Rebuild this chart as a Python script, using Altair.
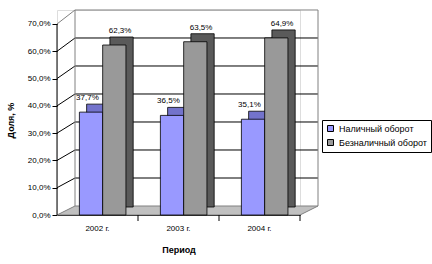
import altair as alt
import pandas as pd

# ---- data ----
years = ["2002 г.", "2003 г.", "2004 г."]
series = ["Наличный оборот", "Безналичный оборот"]
cash = [37.7, 36.5, 35.1]
noncash = [62.3, 63.5, 64.9]
y_ticks = [0, 10, 20, 30, 40, 50, 60, 70]

bar_colors = ["#9999ff", "#999999"]
shade_colors = ["#7373cc", "#5a5a5a"]

FONT = "Liberation Sans"
W, H = 243, 205
YMAX = 75.13
DX = 18  # depth of back wall in px


def back(v):
    # front-scale value that sits at the back-wall height of v
    return 3.298 + 1.0262 * v


rows = []
for i, yr in enumerate(years):
    rows.append({"year": yr, "series": series[0], "value": cash[i]})
    rows.append({"year": yr, "series": series[1], "value": noncash[i]})
df = pd.DataFrame(rows)

yscale = alt.Scale(domain=[0, YMAX], nice=False, zero=True)
yaxis = alt.Axis(
    title="Доля, %", values=y_ticks, domain=False, grid=False, tickSize=5,
    tickColor="#000000", labelFontSize=8, labelColor="#000000",
    labelExpr="replace(format(datum.value, '.1f'), '.', ',') + '%'",
    titleFontWeight="bold", titleFontSize=9, titleColor="#000000",
    titleY=110, titlePadding=12,
)


def yenc(field):
    return alt.Y(field, scale=yscale, axis=yaxis, title="Доля, %")


# ---- decoration (walls, floor, grid) ----
seg = []
for v in y_ticks[1:]:
    c = "#808080" if v == 70 else "#000000"
    seg.append({"x": DX, "x2": W + DX, "y": back(v), "y2": back(v), "c": c})
    seg.append({"x": 0, "x2": DX, "y": v, "y2": back(v), "c": c})
seg.append({"x": DX, "x2": DX, "y": back(0), "y2": back(70), "c": "#808080"})
seg.append({"x": W + DX, "x2": W + DX, "y": back(0), "y2": back(70), "c": "#808080"})
seg.append({"x": 0, "x2": 0, "y": 0, "y2": 70, "c": "#000000"})
seg_df = pd.DataFrame(seg)

floor_df = pd.DataFrame({
    "x": [0, DX, W, W + DX],
    "y": [0, back(0), back(0), back(0)],
    "y2": [0, 0, 0, back(0)],
})

floor = alt.Chart(floor_df).mark_area(
    color="#c0c0c0", stroke="#808080", strokeWidth=1, interpolate="linear"
).encode(
    x=alt.X("x:Q", scale=None),
    y=yenc("y:Q"),
    y2="y2:Q",
)

grid = alt.Chart(seg_df).mark_rule(strokeWidth=1).encode(
    x=alt.X("x:Q", scale=None),
    x2="x2:Q",
    y=yenc("y:Q"),
    y2="y2:Q",
    stroke=alt.Stroke("c:N", scale=None),
)

# ---- bars ----
xaxis = alt.Axis(
    title="Период", labelAngle=0, ticks=False, labelPadding=9,
    domainColor="#000000", titleFontWeight="bold", titleFontSize=9,
    titlePadding=13, labelFontSize=8, labelColor="#000000", titleColor="#000000",
)
xband = alt.X("year:N", sort=years,
              scale=alt.Scale(paddingInner=0, paddingOuter=0), axis=xaxis)


def xoff(align):
    return alt.XOffset("series:N", sort=series,
                       scale=alt.Scale(paddingInner=0, paddingOuter=0.74, align=align))


base = alt.Chart(df)

shade = base.transform_calculate(
    shade=f"datum.series == '{series[0]}' ? '{shade_colors[0]}' : '{shade_colors[1]}'"
).mark_bar(yOffset=-8, stroke="#000000", strokeWidth=0.8).encode(
    x=xband,
    xOffset=xoff(0.86),
    y=yenc("value:Q"),
    fill=alt.Fill("shade:N", scale=None),
)

bars = base.mark_bar(stroke="#000000", strokeWidth=0.8).encode(
    x=xband,
    xOffset=xoff(0.65),
    y=yenc("value:Q"),
    color=alt.Color("series:N", sort=series,
                    scale=alt.Scale(domain=series, range=bar_colors),
                    legend=alt.Legend(title=None)),
)

labels = base.transform_calculate(
    label="replace(format(datum.value, '.1f'), '.', ',') + '%'"
).mark_text(baseline="bottom", dy=-10, dx=-1, fontSize=8, color="#000000", font=FONT).encode(
    x=xband,
    xOffset=xoff(0.65),
    y=yenc("value:Q"),
    text="label:N",
)

ticks = alt.Chart(pd.DataFrame({"year": years})).mark_rule(
    color="#000000", strokeWidth=1
).encode(
    x=alt.X("year:N", sort=years, bandPosition=1, axis=xaxis,
            scale=alt.Scale(paddingInner=0, paddingOuter=0)),
    y=alt.value(H),
    y2=alt.value(H + 6),
)

chart = alt.layer(floor, grid, shade, bars, labels, ticks).resolve_scale(
    xOffset="independent"
).properties(
    width=W, height=H,
    autosize=alt.AutoSizeParams(type="none"),
    padding={"left": 57, "top": 10, "right": 132, "bottom": 49},
).configure_view(stroke=None).configure(
    font=FONT, background="#ffffff"
).configure_legend(
    orient="none", legendX=265, legendY=110, strokeColor="#000000",
    fillColor="#ffffff", padding=4, labelFontSize=9, labelColor="#000000",
    symbolType="square", symbolSize=36, symbolStrokeColor="#000000",
    symbolStrokeWidth=1, rowPadding=3, labelFont=FONT,
)

chart.save("out.html", embed_options={"renderer": "svg", "actions": False})
